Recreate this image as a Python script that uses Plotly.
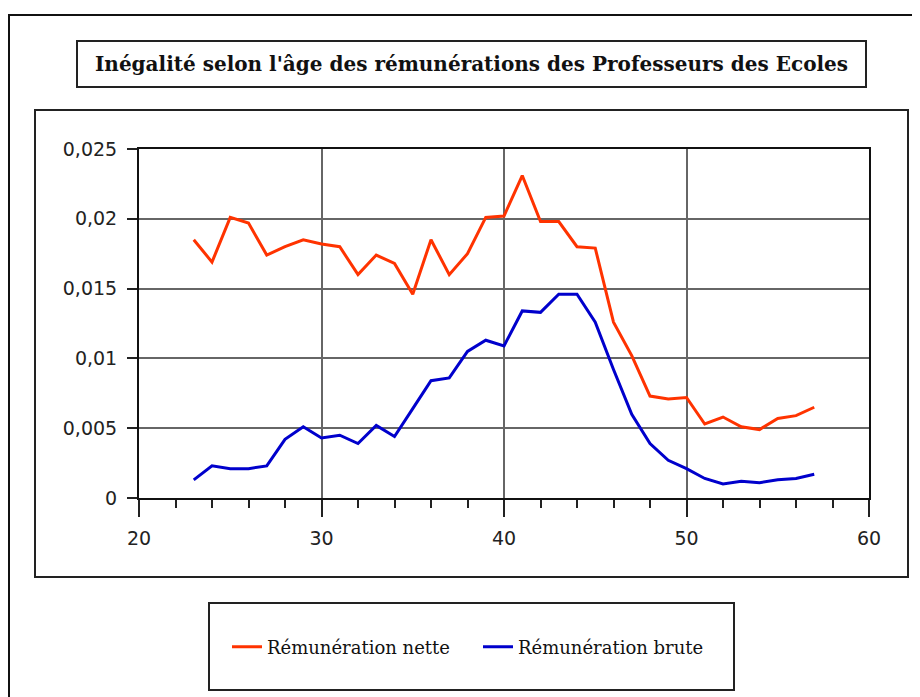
import plotly.graph_objects as go

# ---------------- data ----------------
ages = list(range(23, 58))
remuneration_nette = [
    0.0185, 0.0169, 0.0201, 0.0197, 0.0174, 0.0180, 0.0185, 0.0182, 0.0180,
    0.0160, 0.0174, 0.0168, 0.0146, 0.0185, 0.0160, 0.0175, 0.0201, 0.0202,
    0.0231, 0.0198, 0.0198, 0.0180, 0.0179, 0.0126, 0.0102, 0.0073, 0.0071,
    0.0072, 0.0053, 0.0058, 0.0051, 0.0049, 0.0057, 0.0059, 0.0065,
]
remuneration_brute = [
    0.0013, 0.0023, 0.0021, 0.0021, 0.0023, 0.0042, 0.0051, 0.0043, 0.0045,
    0.0039, 0.0052, 0.0044, 0.0064, 0.0084, 0.0086, 0.0105, 0.0113, 0.0109,
    0.0134, 0.0133, 0.0146, 0.0146, 0.0126, 0.0092, 0.0060, 0.0039, 0.0027,
    0.0021, 0.0014, 0.0010, 0.0012, 0.0011, 0.0013, 0.0014, 0.0017,
]
series_names = ["Rémunération nette", "Rémunération brute"]
y_tick_vals = [0, 0.005, 0.01, 0.015, 0.02, 0.025]
y_tick_labels = ["0", "0,005", "0,01", "0,015", "0,02", "0,025"]
x_tick_vals = [20, 30, 40, 50, 60]
x_tick_labels = ["20", "30", "40", "50", "60"]
title_text = "Inégalité selon l'âge des rémunérations des Professeurs des Ecoles"

# ---------------- layout geometry (screen pixels) ----------------
W, H = 920, 697
OFF = 8  # page body margin offset
PL, PR, PT, PB = 139, 869, 149, 498  # plot area on screen


def fx(px):
    return (px - PL) / (PR - PL)


def fy(py):
    return (PB - py) / (PB - PT)


fig = go.Figure()
fig.add_trace(go.Scatter(x=ages, y=remuneration_nette, mode="lines",
                         name=series_names[0],
                         line=dict(color="#FF3300", width=3)))
fig.add_trace(go.Scatter(x=ages, y=remuneration_brute, mode="lines",
                         name=series_names[1],
                         line=dict(color="#0000CC", width=3)))

tickfont = dict(family="DejaVu Sans", size=19, color="#222222")

fig.update_xaxes(
    range=[20, 60], tickmode="array", tickvals=x_tick_vals, ticktext=x_tick_labels,
    ticks="outside", ticklen=17, tickwidth=2, tickcolor="#222222",
    showgrid=True, gridcolor="#666666", gridwidth=1.5,
    showline=True, linecolor="#111111", linewidth=2, mirror=True,
    zeroline=False, tickfont=tickfont, ticklabelstandoff=5,
    minor=dict(dtick=2, tick0=20, ticks="outside", ticklen=8, tickwidth=2,
               tickcolor="#222222", showgrid=False),
    fixedrange=True,
)
fig.update_yaxes(
    range=[0, 0.025], tickmode="array", tickvals=y_tick_vals, ticktext=y_tick_labels,
    ticks="outside", ticklen=10, tickwidth=2, tickcolor="#222222",
    showgrid=True, gridcolor="#666666", gridwidth=1.5,
    showline=True, linecolor="#111111", linewidth=2, mirror=True,
    zeroline=False, tickfont=tickfont, ticklabelstandoff=6,
    fixedrange=True,
)

shapes = []
# outer frame (extends beyond the picture on right/bottom)
shapes.append(dict(type="rect", xref="paper", yref="paper",
                   x0=fx(9), x1=fx(950), y0=fy(730), y1=fy(15),
                   line=dict(color="#111111", width=2)))
# chart box
shapes.append(dict(type="rect", xref="paper", yref="paper",
                   x0=fx(35), x1=fx(908), y0=fy(577), y1=fy(110),
                   line=dict(color="#222222", width=2)))
# title box
shapes.append(dict(type="rect", xref="paper", yref="paper",
                   x0=fx(77), x1=fx(866), y0=fy(87), y1=fy(41),
                   line=dict(color="#222222", width=2)))
# legend box
shapes.append(dict(type="rect", xref="paper", yref="paper",
                   x0=fx(209), x1=fx(734), y0=fy(690), y1=fy(603),
                   line=dict(color="#222222", width=2)))

fig.update_layout(
    width=W, height=H,
    margin=dict(l=PL - OFF, r=W - (PR - OFF), t=PT - OFF, b=H - (PB - OFF)),
    paper_bgcolor="white", plot_bgcolor="white",
    shapes=shapes,
    showlegend=True,
    legend=dict(orientation="h", x=fx(227), xanchor="left",
                y=fy(647), yanchor="middle",
                font=dict(family="DejaVu Serif", size=18, color="#111111"),
                bgcolor="rgba(0,0,0,0)", borderwidth=0,
                entrywidth=206, entrywidthmode="pixels"),
    annotations=[dict(text="<b>" + title_text + "</b>", xref="paper", yref="paper",
                      x=fx(471.5), y=fy(64), xanchor="center", yanchor="middle",
                      showarrow=False,
                      font=dict(family="DejaVu Serif", size=20, color="#111111"))],
    hovermode=False,
)

fig.write_html("out.html")
